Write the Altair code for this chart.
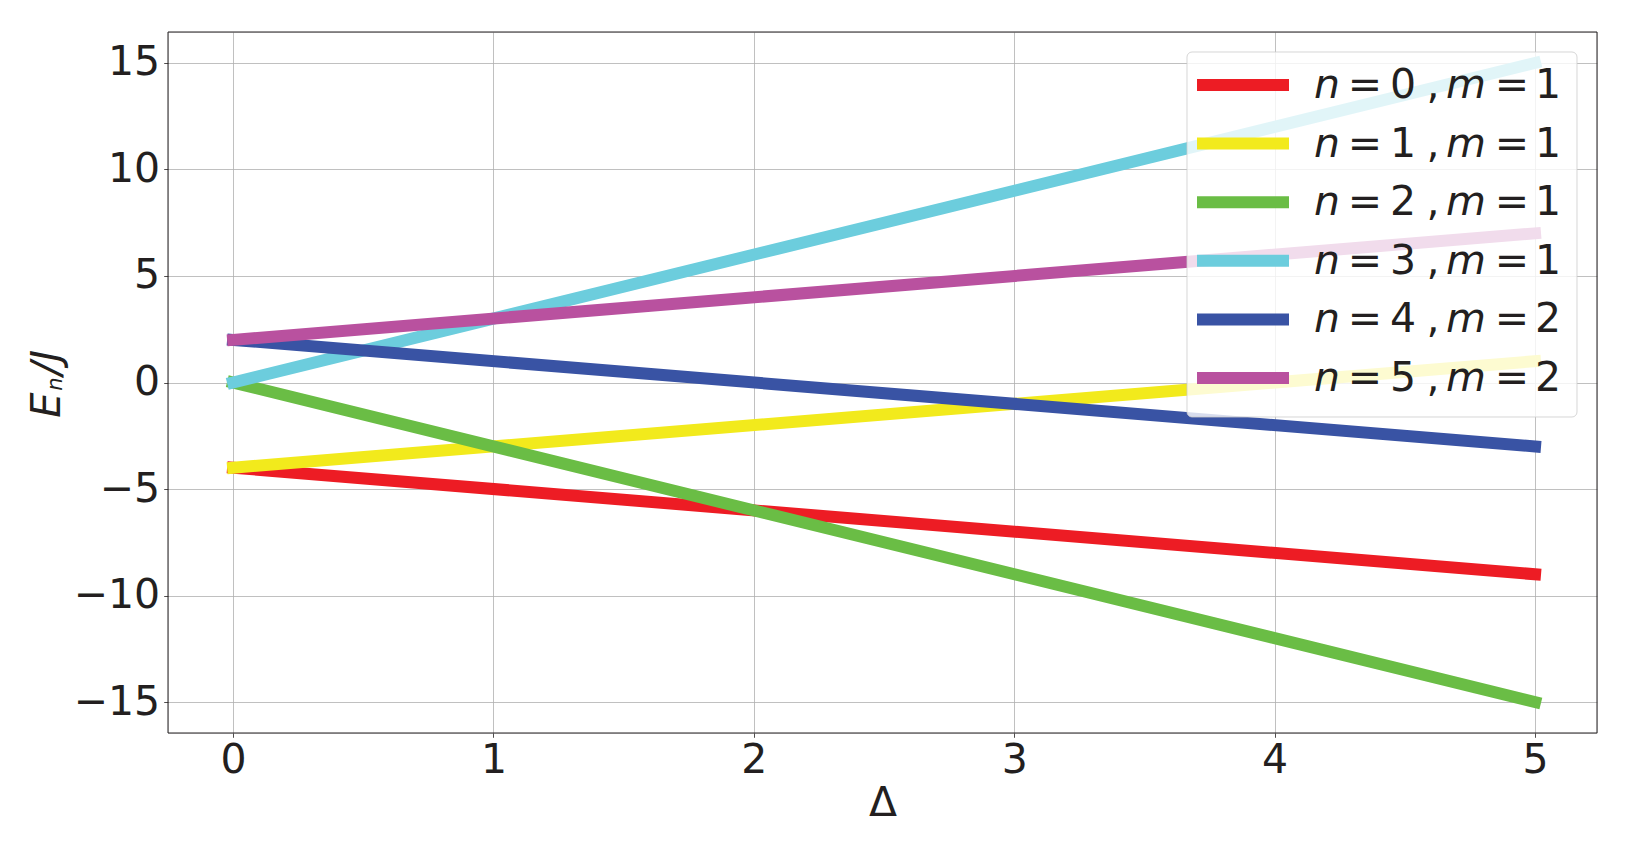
import altair as alt
import pandas as pd

# ---------------- data ----------------
DELTA = [0, 5]
SERIES = ["n=0,m=1", "n=1,m=1", "n=2,m=1", "n=3,m=1", "n=4,m=2", "n=5,m=2"]
N_VALUES = [0, 1, 2, 3, 4, 5]
M_VALUES = [1, 1, 1, 1, 2, 2]
E_START = [-4, -4, 0, 0, 2, 2]
E_END = [-9, 1, -15, 15, -3, 7]
COLORS = ["#ED1C24", "#F2EA1C", "#6ABD45", "#6CCDDD", "#3953A4", "#B9519F"]
X_TICKS = [0, 1, 2, 3, 4, 5]
Y_TICKS = [-15, -10, -5, 0, 5, 10, 15]

TXT = "#231f20"
FONT = "DejaVu Sans"
GRID = "#b0b0b0"
W, H = 1429, 701

x_scale = alt.Scale(domain=[-0.25, 5.238], nice=False, zero=False)
y_scale = alt.Scale(domain=[-16.45, 16.45], nice=False, zero=False)

x_axis = alt.Axis(
    values=X_TICKS, format="d", title="Δ", titleFontSize=41, titleFontWeight="normal",
    titleColor=TXT, titlePadding=3, titleFont=FONT,
    labelFontSize=41, labelColor=TXT, labelPadding=3.5, labelFont=FONT,
    labelFlush=False, labelOverlap=False,
    tickSize=4.3, tickWidth=0.8, tickColor=TXT,
    grid=True, gridColor=GRID, gridWidth=0.8, domain=False,
)
y_axis = alt.Axis(
    values=Y_TICKS, format="d", title=None,
    labelFontSize=41, labelColor=TXT, labelPadding=4, labelFont=FONT,
    labelFlush=False, labelOverlap=False,
    tickSize=4.3, tickWidth=0.8, tickColor=TXT,
    grid=True, gridColor=GRID, gridWidth=0.8, domain=False,
)

# ---------------- main lines ----------------
line_layers = []
for i, s in enumerate(SERIES):
    df = pd.DataFrame({"delta": DELTA, "E": [E_START[i], E_END[i]], "series": s})
    line_layers.append(
        alt.Chart(df)
        .mark_line(strokeWidth=12, strokeCap="square", color=COLORS[i], clip=False)
        .encode(
            x=alt.X("delta:Q", scale=x_scale, axis=x_axis),
            y=alt.Y("E:Q", scale=y_scale, axis=y_axis),
        )
    )
main = alt.layer(*line_layers)

# ---------------- frame + legend ----------------
leg_df = pd.DataFrame({"row": list(range(len(SERIES))), "series": SERIES,
                       "n": N_VALUES, "m": M_VALUES})
one = pd.DataFrame({"k": [0]})

frame = alt.Chart(one).mark_rect(fillOpacity=0, stroke=TXT, strokeWidth=1).encode(
    x=alt.value(0), x2=alt.value(W), y=alt.value(0), y2=alt.value(H)
)

row_y = alt.Y("row:Q", scale=alt.Scale(domain=[0, 5], range=[53, 346], nice=False, zero=False), axis=None)
color_enc = alt.Color("series:N", scale=alt.Scale(domain=SERIES, range=COLORS), legend=None)

leg_box = alt.Chart(one).mark_rect(
    fill="white", fillOpacity=0.8, stroke="#cccccc", strokeOpacity=0.8, strokeWidth=1, cornerRadius=5
).encode(x=alt.value(1019), x2=alt.value(1409), y=alt.value(20), y2=alt.value(385))

swatches = alt.Chart(leg_df).mark_rule(strokeWidth=12, strokeCap="butt").encode(
    x=alt.value(1029), x2=alt.value(1121), y=row_y, color=color_enc
)

def piece(xpos, text=None, field=None, italic=False):
    kw = dict(font=FONT, fontSize=41, color=TXT, align="center", baseline="alphabetic", dy=13,
              fontStyle="italic" if italic else "normal")
    if text is not None:
        kw["text"] = text
    ch = alt.Chart(leg_df).mark_text(**kw)
    enc = dict(x=alt.value(xpos), y=row_y)
    if field is not None:
        enc["text"] = alt.Text(field)
    return ch.encode(**enc)

texts = [
    piece(1159, text="n", italic=True),
    piece(1197, text="="),
    piece(1235, field="n:N"),
    piece(1265, text=","),
    piece(1298, text="m", italic=True),
    piece(1344, text="="),
    piece(1380, field="m:N"),
]

# ---------------- y-axis title E_n/J ----------------
def ytitle(text, ypos, xpos, size):
    return alt.Chart(one).mark_text(
        text=text, font=FONT, fontSize=size, fontStyle="italic", color=TXT,
        angle=270, align="center", baseline="alphabetic"
    ).encode(x=alt.value(xpos), y=alt.value(ypos))

ytitles = [
    ytitle("E", 373, -108, 40),
    ytitle("n", 352, -106, 21),
    ytitle("/J", 330.5, -108, 40),
]

legend = alt.layer(frame, leg_box, swatches, *texts, *ytitles)

chart = (
    alt.layer(main, legend)
    .resolve_scale(y="independent")
    .properties(
        width=W, height=H,
        padding={"left": 160, "top": 24, "right": 22, "bottom": 106},
        autosize=alt.AutoSizeParams(type="none"),
        background="white",
    )
    .configure_view(stroke=TXT, strokeWidth=1)
    .configure(font=FONT)
)

chart.save("out.html", embed_options={"renderer": "svg", "actions": False})
